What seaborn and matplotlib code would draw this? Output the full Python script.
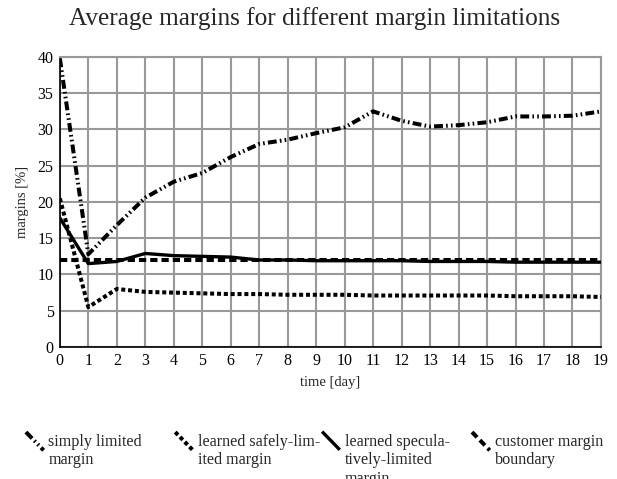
import matplotlib
matplotlib.use("Agg")
import matplotlib.pyplot as plt
from matplotlib.legend_handler import HandlerLine2D
from matplotlib.lines import Line2D
import pandas as pd
import seaborn as sns

# Data
days = list(range(20))
simply_limited = [39.8, 12.8, 16.8, 20.6, 22.8, 24.0, 26.2, 28.0, 28.6, 29.5,
                  30.3, 32.5, 31.2, 30.4, 30.6, 31.0, 31.8, 31.8, 31.9, 32.5]
safely_limited = [20.5, 5.5, 8.0, 7.6, 7.5, 7.4, 7.3, 7.3, 7.2, 7.2,
                  7.2, 7.1, 7.1, 7.1, 7.1, 7.1, 7.0, 7.0, 7.0, 6.9]
speculatively_limited = [17.8, 11.5, 11.8, 12.9, 12.6, 12.5, 12.4, 12.0, 12.0, 11.9,
                         11.9, 11.9, 11.9, 11.8, 11.8, 11.8, 11.7, 11.7, 11.7, 11.7]
customer_boundary = [12.0] * 20

labels = ["simply limited\nmargin", "learned safely-lim-\nited margin",
          "learned specula-\ntively-limited\nmargin", "customer margin\nboundary"]
series = [simply_limited, safely_limited, speculatively_limited, customer_boundary]

sns.set_style("white")
plt.rcParams['font.family'] = ['Liberation Serif', 'DejaVu Serif']

fig = plt.figure(figsize=(6.17, 4.79), dpi=100)
ax = fig.add_axes([0.097, 0.2756, 0.877, 0.6054])

styles = [
    dict(dashes=(2.2, 0.8, 0.4, 0.8, 0.4, 0.8), lw=2.9),
    dict(dashes=(1.0, 0.7), lw=2.9),
    dict(dashes=(), lw=2.4),
    dict(dashes=(1.8, 1.0), lw=2.9),
]

handles = []
for lab, vals, st in zip(labels, series, styles):
    df = pd.DataFrame({"day": days, "margin": vals})
    sns.lineplot(data=df, x="day", y="margin", ax=ax, color="black",
                 linewidth=st["lw"], label=lab, zorder=3)
    ln = ax.lines[-1]
    if st["dashes"]:
        ln.set_dashes(st["dashes"])
    ln.set_solid_capstyle("butt")
    ln.set_dash_capstyle("butt")
    handles.append(ln)
ax.get_legend().remove()

ax.set_xlim(0, 19)
ax.set_ylim(0, 40)
ax.set_xticks(days)
ax.set_yticks(range(0, 41, 5))
ax.grid(True, color="#999999", linewidth=1.5)
ax.set_axisbelow(True)
for side in ["top", "right"]:
    ax.spines[side].set_color("#999999")
    ax.spines[side].set_linewidth(1.5)
for side in ["left", "bottom"]:
    ax.spines[side].set_color("black")
    ax.spines[side].set_linewidth(1.2)
ax.tick_params(axis="both", labelsize=11.5, direction="out", length=3,
               width=1, colors="black", pad=1.5)
ax.set_xlabel("time [day]", fontsize=10.5, labelpad=5)
ax.set_ylabel("margins [%]", fontsize=10.5, labelpad=6)

fig.suptitle("Average margins for different margin limitations",
             fontsize=18.2, x=0.51, y=0.962, va="center")


class DiagonalHandler(HandlerLine2D):
    """short diagonal key placed next to the first text line"""
    def __init__(self, nlines, **kw):
        super().__init__(**kw)
        self.nlines = nlines

    def create_artists(self, legend, orig_handle, xdescent, ydescent,
                       width, height, fontsize, trans):
        shift = (self.nlines - 1) * 0.5 * fontsize * 1.2
        line = Line2D([0, width], [height + 3 + shift, shift - 2])
        self.update_prop(line, orig_handle, legend)
        line.set_transform(trans)
        return [line]


# one legend box per entry so the text tops line up
legend_x = [0.042, 0.284, 0.522, 0.765]
for h, lab, lx in zip(handles, labels, legend_x):
    nl = lab.count("\n") + 1
    fig.legend([h], [lab], loc="upper left", bbox_to_anchor=(lx, 0.094),
               frameon=False, fontsize=11.6, handlelength=1.1,
               handletextpad=0.3, borderpad=0, borderaxespad=0,
               handler_map={Line2D: DiagonalHandler(nl)})

fig.savefig("out.png", dpi=100)
